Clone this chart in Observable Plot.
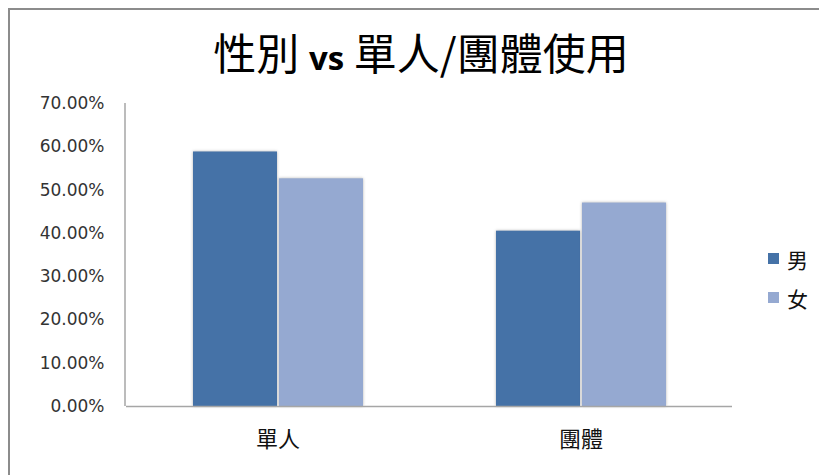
<!DOCTYPE html>
<html>
<head>
<meta charset="utf-8">
<script src="https://cdn.jsdelivr.net/npm/d3@7"></script>
<script src="https://cdn.jsdelivr.net/npm/@observablehq/plot@0.6"></script>
<style>
  html, body { margin: 0; padding: 0; background: #fff; }
  #wrap { position: relative; width: 819px; height: 475px; overflow: hidden; background: #fff; }
  #frame { position: absolute; left: 8px; top: 8px; width: 900px; height: 600px; border: 2px solid #8c8c8c; box-sizing: border-box; }
  #title { position: absolute; left: 0; width: 842px; top: 27px; text-align: center; font-family: "Noto Sans CJK TC", sans-serif; font-size: 43px; line-height: 48px; color: #000; white-space: nowrap; }
  #title .vs { font-family: "Open Sans", sans-serif; font-weight: 700; font-size: 33px; }
  #chart { position: absolute; left: 0; top: 90px; }
  #legend { position: absolute; left: 768px; top: 239px; font-family: "Noto Sans CJK TC", sans-serif; font-size: 21px; color: #111; }
  #legend .item { display: flex; align-items: center; height: 39px; }
  #legend .sw { width: 11px; height: 11px; margin-right: 8px; }
</style>
</head>
<body>
<div id="wrap">
  <div id="frame"></div>
  <div id="title">性別 <span class="vs">vs</span> 單人/團體使用</div>
  <div id="chart"></div>
  <div id="legend"></div>
</div>
<script>
const categories = ["單人", "團體"];
const series = ["男", "女"];
const maleValues = [0.588, 0.405];
const femaleValues = [0.526, 0.470];
const colors = ["#4572a7", "#95a9d1"];
const yTicks = [0, 0.1, 0.2, 0.3, 0.4, 0.5, 0.6, 0.7];

const seriesValues = [maleValues, femaleValues];
const data = [];
categories.forEach((c, i) => {
  series.forEach((s, j) => data.push({cat: c, sex: s, value: seriesValues[j][i]}));
});

const chart = Plot.plot({
  width: 819,
  height: 385,
  marginLeft: 125,
  marginRight: 87,
  marginTop: 13,
  marginBottom: 69,
  style: {fontFamily: "DejaVu Sans, sans-serif", fontSize: "17px", color: "#333", background: "transparent"},
  fx: {domain: categories, padding: 0, axis: null},
  x: {domain: series, paddingInner: 0.025, paddingOuter: 0.76, axis: null},
  y: {domain: [0, 0.7], axis: null},
  color: {domain: series, range: colors},
  marks: [
    Plot.axisY({ticks: yTicks, tickSize: 0, tickPadding: 22, label: null, tickFormat: d => (d * 100).toFixed(2) + "%", fill: "#333", fontSize: 17}),
    Plot.barY(data, {fx: "cat", x: "sex", y: "value", fill: "sex"}),
    Plot.ruleY([0], {stroke: "#a6a6a6", strokeWidth: 1.5}),
    Plot.axisFx({anchor: "bottom", tickSize: 0, tickPadding: 25, fontSize: 22, fontFamily: "Noto Sans CJK TC", fill: "#111", label: null})
  ]
});

document.getElementById("chart").appendChild(chart);

// y-axis line drawn from the library's scales
const fxS = chart.scale("fx");
const yS = chart.scale("y");
d3.select(chart).append("line")
  .attr("x1", fxS.range[0]).attr("x2", fxS.range[0])
  .attr("y1", yS.range[0]).attr("y2", yS.range[1])
  .attr("stroke", "#a6a6a6").attr("stroke-width", 1.5);

d3.select(chart).selectAll("rect").style("filter", "drop-shadow(0px 0px 1.5px rgba(0,0,0,0.3))");

// legend
const legend = d3.select("#legend");
series.forEach((s, i) => {
  const it = legend.append("div").attr("class", "item");
  it.append("div").attr("class", "sw").style("background", colors[i]);
  it.append("span").text(s);
});
</script>
</body>
</html>
